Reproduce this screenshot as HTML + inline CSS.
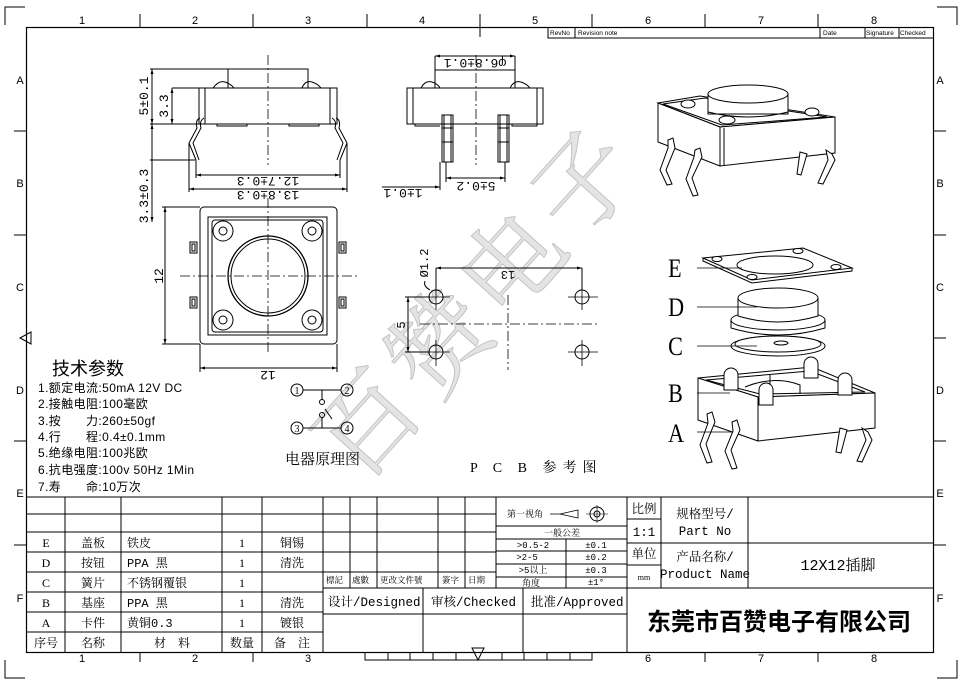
<!DOCTYPE html>
<html><head><meta charset="utf-8"><style>
html,body{margin:0;padding:0;background:#fff;}
svg{display:block;}
.s{font-family:"Liberation Serif","Noto Serif CJK SC",serif;}
.m{font-family:"Liberation Mono","Noto Serif CJK SC",monospace;}
.a{font-family:"Liberation Sans","Noto Sans CJK SC",sans-serif;}
</style></head><body>
<svg width="962" height="683" viewBox="0 0 962 683" xmlns="http://www.w3.org/2000/svg">
<defs>
<marker id="ar" viewBox="0 0 10 10" refX="10" refY="5" markerWidth="8" markerHeight="5" orient="auto-start-reverse"><path d="M0,2 L10,5 L0,8z" fill="#000"/></marker>
</defs>
<g stroke="#000" fill="none" stroke-width="1">
<path d="M5,25 V7 H25 M937,7 H957 V25 M957,660 V678 H937 M5,660 V678 H25"/>
<rect x="26.5" y="27.5" width="907" height="625" stroke-width="1.2"/>
<path d="M140,14 V27 M253,14 V27 M367,14 V27 M480,14 V37 M592,14 V27 M705,14 V27 M818,14 V27"/>
<path d="M140,652 V662 M253,652 V662 M705,652 V662 M818,652 V662"/>
<path d="M14,131 H27 M14,235 H27 M14,441 H27 M14,545 H27 M934,131 H946 M934,235 H946 M934,338 H946 M934,441 H946 M934,545 H946"/>
<path d="M365,652 V660 H592 V652 M388,652 V660 M410,652 V660 M433,652 V660 M456,652 V660 M502,652 V660 M524,652 V660 M547,652 V660 M570,652 V660"/>
<path d="M472,648 L484,648 L478,660z"/>
<path d="M20,338 L31,332 V344z"/>
<path d="M548,27 V38 H934 M575,27 V38 M820,27 V38 M865,27 V38 M899,27 V38"/>
</g>
<g class="a" font-size="11" fill="#000" text-anchor="middle">
<text x="82" y="24">1</text><text x="195" y="24">2</text><text x="308" y="24">3</text><text x="422" y="24">4</text><text x="535" y="24">5</text><text x="648" y="24">6</text><text x="761" y="24">7</text><text x="874" y="24">8</text>
<text x="195" y="662">2</text><text x="308" y="662">3</text><text x="648" y="662">6</text><text x="761" y="662">7</text><text x="874" y="662">8</text><text x="82" y="662">1</text>
<text x="20" y="84">A</text><text x="20" y="187">B</text><text x="20" y="291">C</text><text x="20" y="394">D</text><text x="20" y="497">E</text><text x="20" y="602">F</text>
<text x="940" y="84">A</text><text x="940" y="187">B</text><text x="940" y="291">C</text><text x="940" y="394">D</text><text x="940" y="497">E</text><text x="940" y="602">F</text>
</g>
<g class="a" font-size="6.5" fill="#000">
<text x="550" y="35">RevNo</text><text x="578" y="35">Revision note</text><text x="823" y="35">Date</text><text x="866" y="35">Signature</text><text x="900" y="35">Checked</text>
</g>

<!-- watermark -->
<g class="s" font-size="100" fill="#e4e4e4" stroke="#c4c4c4" stroke-width="1">
<text transform="translate(360,485) rotate(-48)" letter-spacing="8">百赞电子</text>
</g>

<!-- FRONT VIEW -->
<g stroke="#000" fill="none" stroke-width="1">
<rect x="199" y="88" width="138" height="36"/>
<path d="M205,88 V124 M330,88 V124"/>
<path d="M228,88 V69 H308 V88"/>
<path d="M213,88 Q219,80 225,82 Q231,84 234,88 M302,88 Q305,80 312,82 Q318,84 321,88"/>
<path d="M217,124 V126 H247 V124 M289,124 V126 H319 V124"/>
<path d="M200,118 Q195,120 197,128 L189,143 L196,160 M204,118 Q199,121 201,128 L193,143 L199,160"/>
<path d="M336,118 Q341,120 339,128 L347,143 L340,160 M332,118 Q337,121 335,128 L343,143 L337,160"/>
<path d="M268,55 V165" stroke-dasharray="10,3,2,3" stroke-width="0.8"/>
<path d="M150,69 H228 M172,88 H199 M150,124 H199 M150,160 H195"/>
<path d="M152,69 V124" marker-start="url(#ar)" marker-end="url(#ar)"/>
<path d="M172,88 V124" marker-start="url(#ar)" marker-end="url(#ar)"/>
<path d="M152,124 V222" marker-start="url(#ar)" marker-end="url(#ar)"/>
<path d="M196,160 V178 M340,160 V178 M189,143 V192 M347,143 V192"/>
<path d="M196,175 H340" marker-start="url(#ar)" marker-end="url(#ar)"/>
<path d="M189,189 H347" marker-start="url(#ar)" marker-end="url(#ar)"/>
</g>
<g class="m" font-size="13" fill="#000" text-anchor="middle">
<text transform="translate(148,96) rotate(-90)">5±0.1</text>
<text transform="translate(168,106) rotate(-90)">3.3</text>
<text transform="translate(148,196) rotate(-90)">3.3±0.3</text>
<text transform="translate(268,177) rotate(180)">12.7±0.3</text>
<text transform="translate(268,191) rotate(180)">13.8±0.3</text>
</g>

<!-- TOP VIEW -->
<g stroke="#000" fill="none" stroke-width="1">
<rect x="200" y="207" width="137" height="137" rx="4"/>
<rect x="208" y="217" width="119" height="118"/>
<rect x="212" y="220" width="111" height="112" rx="3"/>
<circle cx="268" cy="276" r="40" stroke-width="1.3"/>
<circle cx="268" cy="276" r="37"/>
<circle cx="223" cy="231" r="10"/><circle cx="223" cy="231" r="4"/>
<circle cx="312" cy="231" r="10"/><circle cx="312" cy="231" r="4"/>
<circle cx="223" cy="320" r="10"/><circle cx="223" cy="320" r="4"/>
<circle cx="312" cy="320" r="10"/><circle cx="312" cy="320" r="4"/>
<rect x="190" y="242" width="7" height="11"/><rect x="192" y="244" width="3" height="7"/>
<rect x="190" y="297" width="7" height="11"/><rect x="192" y="299" width="3" height="7"/>
<rect x="339" y="242" width="7" height="11"/><rect x="341" y="244" width="3" height="7"/>
<rect x="339" y="297" width="7" height="11"/><rect x="341" y="299" width="3" height="7"/>
<path d="M180,276 H358 M268,198 V355" stroke-dasharray="10,3,2,3" stroke-width="0.8"/>
<path d="M162,207 H200 M162,344 H200 M200,344 V372 M337,344 V372"/>
<path d="M165,207 V344" marker-start="url(#ar)" marker-end="url(#ar)"/>
<path d="M200,368 H337" marker-start="url(#ar)" marker-end="url(#ar)"/>
</g>
<g class="m" font-size="13" fill="#000" text-anchor="middle">
<text transform="translate(163,276) rotate(-90)">12</text>
<text transform="translate(268,371) rotate(180)">12</text>
</g>

<!-- SIDE VIEW -->
<g stroke="#000" fill="none" stroke-width="1">
<rect x="407" y="88" width="136" height="36"/>
<path d="M413,88 V124 M537,88 V124"/>
<path d="M435,88 V70 H515 V88"/>
<path d="M421,88 Q425,80 432,82 Q438,84 440,88 M510,88 Q514,80 521,82 Q527,84 530,88"/>
<path d="M415,124 V126 H440 M512,124 V126 H537 V124"/>
<rect x="442" y="115" width="11" height="47"/><path d="M442,128 H453 M442,142 H453 M444,115 V162 M451,115 V162"/>
<rect x="498" y="115" width="11" height="47"/><path d="M498,128 H509 M498,142 H509 M500,115 V162 M507,115 V162"/>
<path d="M476,55 V165" stroke-dasharray="10,3,2,3" stroke-width="0.8"/>
<path d="M435,56 V70 M515,56 V70"/>
<path d="M435,56 H515" marker-start="url(#ar)" marker-end="url(#ar)"/>
<path d="M440,162 V190 M446,162 V182 M505,162 V182"/>
<path d="M446,178 H505" marker-start="url(#ar)" marker-end="url(#ar)"/>
<path d="M382,187 H440" marker-end="url(#ar)"/>
</g>
<g class="m" font-size="13" fill="#000" text-anchor="middle">
<text transform="translate(475,59) rotate(180)">φ6.8±0.1</text>
<text transform="translate(476,182) rotate(180)">5±0.2</text>
<text transform="translate(403,189) rotate(180)">1±0.1</text>
</g>

<!-- PCB -->
<g stroke="#000" fill="none" stroke-width="1">
<circle cx="436" cy="297" r="7"/><circle cx="582" cy="297" r="7"/><circle cx="436" cy="352" r="7"/><circle cx="582" cy="352" r="7"/>
<path d="M425,297 H450 M436,286 V310 M568,297 H598 M582,286 V310 M425,352 H450 M436,340 V366 M568,352 H598 M582,340 V366" stroke-width="0.8"/>
<path d="M420,324 H600 M508,295 V370" stroke-dasharray="10,3,2,3" stroke-width="0.8"/>
<path d="M436,268 V290 M582,268 V290"/>
<path d="M436,268 H582" marker-start="url(#ar)" marker-end="url(#ar)"/>
<path d="M405,297 H430 M405,352 H430"/>
<path d="M408,297 V352" marker-start="url(#ar)" marker-end="url(#ar)"/>
<path d="M430,290 Q423,286 425,281"/>
</g>
<g class="m" font-size="12" fill="#000" text-anchor="middle">
<text transform="translate(508,271) rotate(180)">13</text>
<text transform="translate(405,325) rotate(-90)">5</text>
<text transform="translate(428,263) rotate(-90)">Ø1.2</text>
</g>
<text x="470" y="472" class="s" font-size="14" fill="#000" letter-spacing="6">P C B 参考图</text>

<!-- CIRCUIT -->
<g stroke="#000" fill="none" stroke-width="1">
<circle cx="297" cy="390" r="6"/><circle cx="347" cy="390" r="6"/><circle cx="297" cy="428" r="6"/><circle cx="347" cy="428" r="6"/>
<path d="M303,390 H341 M322,390 V400 M303,428 H341 M322,428 V417 M325,409 L332,419"/>
<circle cx="322" cy="402" r="2.5"/><circle cx="322" cy="415" r="2.5"/>
</g>
<g class="s" font-size="10" fill="#000" text-anchor="middle">
<text x="297" y="394">1</text><text x="347" y="394">2</text><text x="297" y="432">3</text><text x="347" y="432">4</text>
</g>
<text x="285" y="464" class="s" font-size="15" fill="#000">电器原理图</text>

<!-- TECH PARAMS -->
<text x="52" y="375" class="a" font-size="18" fill="#000">技术参数</text>
<g class="a" font-size="12" fill="#000" letter-spacing="0.4">
<text x="38" y="392">1.额定电流:50mA 12V DC</text>
<text x="38" y="408">2.接触电阻:100毫欧</text>
<text x="38" y="425">3.按　　力:260±50gf</text>
<text x="38" y="441">4.行　　程:0.4±0.1mm</text>
<text x="38" y="457">5.绝缘电阻:100兆欧</text>
<text x="38" y="474">6.抗电强度:100v 50Hz 1Min</text>
<text x="38" y="491">7.寿　　命:10万次</text>
</g>

<!-- ISO ASSEMBLED -->
<g stroke="#000" fill="#fff" stroke-width="1">
<path d="M658,103 L700,96 L835,117 L720,127z"/>
<path d="M658,103 V142 L720,166 V127z"/>
<path d="M720,127 L835,117 V153 L720,166z"/>
<path d="M724,128 V165" fill="none"/>
<path d="M663,104 L705,98 L827,117 L722,125z" fill="none"/>
<rect x="708" y="94" width="80" height="20"/>
<ellipse cx="748" cy="94" rx="40" ry="9"/>
<path d="M708,112 Q748,122 788,112" fill="none"/>
<ellipse cx="688" cy="104" rx="7" ry="4"/><ellipse cx="727" cy="120" rx="8" ry="4"/><ellipse cx="812" cy="112" rx="7" ry="4"/>
<path d="M668,140 L673,138 L675,148 L666,170 L672,184 L667,185 L660,170 L668,148z"/>
<path d="M695,150 L700,148 L702,157 L692,178 L698,195 L693,196 L686,179 L694,157z"/>
<path d="M800,152 L807,154 L801,175 L797,174z"/>
<path d="M826,150 L832,154 L835,160 L823,184 L818,183 L828,160z"/>
</g>

<!-- EXPLODED -->
<g stroke="#000" fill="#fff" stroke-width="1">
<path d="M703,258 L803,248 L852,268 L752,280z"/>
<path d="M703,258 V261 L752,283 L852,271 V268" fill="none"/>
<ellipse cx="775" cy="265" rx="38" ry="9"/>
<ellipse cx="717" cy="259" rx="5" ry="2.5"/><ellipse cx="798" cy="251" rx="5" ry="2.5"/><ellipse cx="836" cy="267" rx="5" ry="2.5"/><ellipse cx="752" cy="277" rx="5" ry="2.5"/>
<path d="M731,320 V328 Q778,342 825,328 V320" />
<ellipse cx="778" cy="320" rx="47" ry="10"/>
<path d="M738,298 V316 Q778,328 818,316 V298"/>
<ellipse cx="778" cy="298" rx="40" ry="10"/>
<ellipse cx="778" cy="346" rx="47" ry="10"/>
<ellipse cx="778" cy="344" rx="43" ry="8"/>
<ellipse cx="781" cy="343" rx="7" ry="2"/>
<path d="M698,378 L812,367 L875,393 L758,397z"/>
<path d="M698,378 V420 L758,441 V397z"/>
<path d="M758,397 L875,393 V428 L758,441z"/>
<path d="M706,380 L810,371 L865,392 L760,394z" fill="none"/>
<path d="M745,387 Q775,375 800,385 V394 M770,375 V394" fill="none"/>
<path d="M724,375 V390 H738 V375 A7,7 0 0 0 724,375z"/><path d="M759,390 V405 H773 V390 A7,7 0 0 0 759,390z"/>
<path d="M804,364 V378 H818 V364 A7,7 0 0 0 804,364z"/><path d="M838,380 V395 H852 V380 A7,7 0 0 0 838,380z"/>
<path d="M707,414 L712,412 L715,422 L706,444 L712,462 L707,463 L700,445 L708,423z"/>
<path d="M732,422 L737,420 L740,430 L731,450 L737,468 L732,469 L725,451 L733,431z"/>
<path d="M840,428 L847,430 L841,453 L836,452z"/>
<path d="M862,428 L868,432 L872,440 L862,462 L857,461 L866,440z"/>
</g>
<g stroke="#000" stroke-width="0.8" fill="none">
<path d="M697,268 H742 M697,307 H757 M697,346 H757 M697,393 H730 M697,432 H733"/>
</g>
<g class="s" font-size="26" fill="#000" transform="scale(0.85,1)">
<text x="786" y="277">E</text><text x="786" y="316">D</text><text x="786" y="355">C</text><text x="786" y="402">B</text><text x="786" y="442">A</text>
</g>

<!-- TITLE BLOCK -->
<g stroke="#000" fill="none" stroke-width="1">
<path d="M27,497 H934"/>
<path d="M27,514 H323 M27,532 H323 M27,552 H323 M27,572 H323 M27,592 H323 M27,612 H323 M27,632 H323"/>
<path d="M65,497 V652 M121,497 V652 M222,497 V652 M262,497 V652 M323,497 V652"/>
<path d="M323,514 H496 M323,532 H496 M323,552 H496 M323,572 H496 M323,588 H627 M323,614 H627"/>
<path d="M350,497 V588 M377,497 V588 M438,497 V588 M465,497 V588 M496,497 V588 M423,588 V652 M523,588 V652"/>
<path d="M496,526 H627 M496,539 H627 M496,551 H627 M496,564 H627 M496,577 H627 M566,539 V588"/>
<path d="M627,497 V652 M661,497 V588 M748,497 V588 M627,519 H661 M627,543 H934 M627,565 H661 M627,588 H934"/>
<path d="M550,514 H560 L578,510 V518 L560,514" stroke-width="0.8"/>
<circle cx="597" cy="514" r="7"/><circle cx="597" cy="514" r="3"/><path d="M586,514 H608 M597,505 V523" stroke-width="0.6"/>
</g>
<g class="s" font-size="12" fill="#000" text-anchor="middle">
<text x="46" y="547">E</text><text x="93" y="547">盖板</text><text x="242" y="547">1</text><text x="292" y="547">铜锡</text>
<text x="46" y="567">D</text><text x="93" y="567">按钮</text><text x="242" y="567">1</text><text x="292" y="567">清洗</text>
<text x="46" y="587">C</text><text x="93" y="587">簧片</text><text x="242" y="587">1</text>
<text x="46" y="607">B</text><text x="93" y="607">基座</text><text x="242" y="607">1</text><text x="292" y="607">清洗</text>
<text x="46" y="627">A</text><text x="93" y="627">卡件</text><text x="242" y="627">1</text><text x="292" y="627">镀银</text>
<text x="46" y="647">序号</text><text x="93" y="647">名称</text><text x="172" y="647">材　料</text><text x="242" y="647">数量</text><text x="292" y="647">备　注</text>
</g>
<g class="m" font-size="12" fill="#000">
<text x="127" y="547">铁皮</text><text x="127" y="567">PPA 黑</text><text x="127" y="587">不锈钢覆银</text><text x="127" y="607">PPA 黑</text><text x="127" y="627">黄铜0.3</text>
</g>
<g class="s" font-size="8.5" fill="#000">
<text x="326" y="583">標記</text><text x="352" y="583">處數</text><text x="380" y="583">更改文件號</text><text x="442" y="583">簽字</text><text x="468" y="583">日期</text>
</g>
<g class="m" font-size="12.5" fill="#000">
<text x="328" y="606">设计/Designed</text><text x="431" y="606">审核/Checked</text><text x="531" y="606">批准/Approved</text>
</g>
<g class="m" font-size="9" fill="#000" text-anchor="middle">
<text x="525" y="517">第一视角</text>
<text x="562" y="536">一般公差</text>
<text x="533" y="548">&gt;0.5-2</text><text x="596" y="548">±0.1</text>
<text x="527" y="560">&gt;2-5</text><text x="596" y="560">±0.2</text>
<text x="533" y="573">&gt;5以上</text><text x="596" y="573">±0.3</text>
<text x="531" y="586">角度</text><text x="596" y="585">±1°</text>
</g>
<g class="m" font-size="12.5" fill="#000" text-anchor="middle">
<text x="644" y="513">比例</text><text x="644" y="536">1:1</text><text x="644" y="558">单位</text>
<text x="705" y="518">规格型号/</text><text x="705" y="535">Part No</text>
<text x="705" y="561">产品名称/</text><text x="705" y="578">Product Name</text>
<text x="838" y="570" font-size="15">12X12插脚</text>
</g>
<text x="644" y="580" class="s" font-size="8" fill="#000" text-anchor="middle">mm</text>
<text x="779" y="630" class="a" font-size="24" font-weight="bold" fill="#000" text-anchor="middle">东莞市百赞电子有限公司</text>
</svg>
</body></html>
